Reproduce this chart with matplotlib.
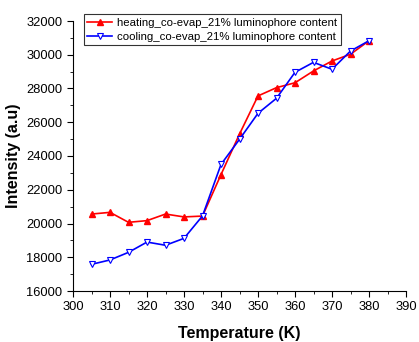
import numpy as np
import matplotlib.pyplot as plt
from matplotlib.ticker import MultipleLocator

plt.rcParams['font.family'] = ['Liberation Sans', 'DejaVu Sans']

temp = [305, 310, 315, 320, 325, 330, 335, 340, 345, 350, 355, 360, 365, 370, 375, 380]
heating = [20560, 20660, 20070, 20170, 20560, 20390, 20440, 22900, 25300, 27560,
           28050, 28340, 29040, 29630, 30030, 30830]
cooling = [17580, 17840, 18290, 18900, 18710, 19120, 20450, 23500, 24990, 26530,
           27420, 28960, 29550, 29140, 30220, 30830]

fig = plt.figure(figsize=(4.19, 3.42), dpi=100)
ax = fig.add_axes([73/419, 1-291/342, (406-73)/419, (291-21)/342])

ax.plot(temp, heating, '-^', color='red', lw=1.2, ms=3.8, mfc='red', mec='red',
        label='heating_co-evap_21% luminophore content')
ax.plot(temp, cooling, '-v', color='blue', lw=1.2, ms=4.5, mfc='white', mec='blue',
        mew=0.8, label='cooling_co-evap_21% luminophore content')

ax.set_xlim(300, 390)
ax.set_ylim(16000, 32000)
ax.xaxis.set_major_locator(MultipleLocator(10))
ax.xaxis.set_minor_locator(MultipleLocator(5))
ax.yaxis.set_major_locator(MultipleLocator(2000))
ax.yaxis.set_minor_locator(MultipleLocator(1000))
ax.spines['top'].set_visible(False)
ax.spines['right'].set_visible(False)
ax.tick_params(which='major', length=4, labelsize=9.3)
ax.tick_params(which='minor', length=2)

ax.set_xlabel('Temperature (K)', fontsize=11.5, fontweight='bold', labelpad=9)
ax.set_ylabel('Intensity (a.u)', fontsize=11.5, fontweight='bold', labelpad=4)

leg = ax.legend(loc='upper left', bbox_to_anchor=(0.033, 1.025), fontsize=8.2,
                frameon=True, fancybox=False, edgecolor='black',
                handlelength=2.2, borderpad=0.3, labelspacing=0.35, handletextpad=0.4,
                borderaxespad=0)
leg.get_frame().set_linewidth(0.8)

fig.savefig('out.png', dpi=100)
